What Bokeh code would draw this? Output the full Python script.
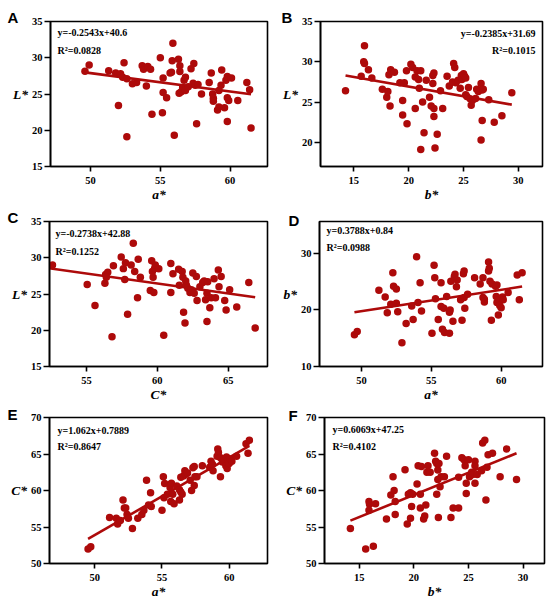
from bokeh.plotting import figure
from bokeh.layouts import column, row
from bokeh.models import FixedTicker, Label, Range1d, Title
from bokeh.embed import file_html
from bokeh.resources import INLINE

# ---------------- data ----------------
# Panel A: a* (x) vs L* (y)
A_points = [(49.6, 28.15), (49.9, 29.0), (51.3, 28.2), (51.8, 27.9), (52.15, 27.8), (52.4, 29.3),
            (52.0, 23.4), (52.6, 19.1), (52.3, 27.3), (52.6, 27.1), (53.0, 26.4), (53.3, 26.6),
            (53.7, 28.9), (53.8, 28.4), (54.1, 28.8), (54.3, 28.4), (54.0, 26.1), (54.4, 22.2),
            (55.0, 30.0), (55.15, 22.4), (55.2, 27.2), (55.2, 25.2), (55.45, 24.5), (55.7, 27.9),
            (55.8, 28.0), (55.9, 32.0), (55.85, 29.6), (56.0, 19.3), (56.3, 29.8), (56.4, 28.9),
            (56.4, 28.1), (56.35, 25.1), (56.5, 25.3), (56.6, 25.9), (56.7, 26.9), (56.8, 25.5),
            (56.8, 27.3), (57.0, 26.0), (57.2, 28.5), (57.4, 29.2), (57.35, 26.5), (57.5, 26.2),
            (57.6, 20.9), (57.7, 26.3), (57.95, 25.0), (58.5, 26.6), (58.65, 27.9), (58.75, 25.0),
            (58.8, 24.4), (58.8, 24.0), (59.1, 22.8), (59.2, 23.2), (59.2, 25.5), (59.35, 26.2),
            (59.4, 28.3), (59.6, 23.1), (59.7, 26.9), (59.8, 21.2), (59.8, 24.5), (59.9, 24.1),
            (59.8, 27.4), (60.1, 27.2), (60.55, 24.1), (61.2, 26.6), (61.4, 25.6), (61.5, 20.3)]
A_fit = (-0.2543, 40.6)
A_eq = ["y=-0.2543x+40.6", "R\u00b2=0.0828"]

# Panel B: b* (x) vs L* (y)
B_points = [(14.24, 26.4), (15.67, 28.2), (15.97, 32.0), (15.9, 30.0), (15.97, 29.8), (16.33, 29.0),
            (16.64, 28.0), (17.6, 26.6), (18.0, 25.6), (18.1, 26.3), (18.3, 24.5), (18.36, 29.0),
            (18.2, 28.4), (18.7, 28.7), (19.2, 27.4), (19.45, 25.2), (19.45, 23.4), (19.6, 27.4),
            (19.8, 28.9), (19.85, 22.3), (20.2, 29.7), (20.36, 29.3), (20.6, 24.2), (20.6, 28.1),
            (20.76, 28.9), (20.9, 27.8), (20.97, 26.7), (21.1, 28.9), (21.1, 19.1), (21.27, 25.0),
            (21.4, 21.2), (21.6, 27.7), (21.9, 25.6), (22.05, 24.5), (22.2, 28.3), (22.2, 27.3),
            (22.3, 28.6), (22.3, 24.2), (22.3, 23.2), (22.4, 19.3), (22.6, 21.0), (22.9, 26.4),
            (23.1, 24.2), (23.5, 28.2), (23.7, 27.0), (24.0, 27.5), (24.1, 29.8), (24.2, 29.3),
            (24.3, 27.4), (24.5, 27.7), (24.7, 26.7), (24.8, 28.3), (24.85, 27.8), (25.0, 28.5),
            (25.1, 28.2), (25.2, 25.9), (25.2, 28.0), (25.3, 25.7), (25.45, 26.8), (25.6, 25.4),
            (25.7, 24.6), (25.8, 25.2), (26.1, 25.45), (26.2, 26.6), (26.35, 26.3), (26.6, 20.3),
            (26.6, 27.3), (26.7, 26.5), (26.7, 22.7), (26.8, 26.6), (27.3, 25.3), (27.8, 22.5),
            (28.5, 23.3), (29.4, 26.15)]
B_fit = (-0.2385, 31.69)
B_eq = ["y=-0.2385x+31.69", "R\u00b2=0.1015"]

# Panel C: C* (x) vs L* (y)
C_points = [(51.95, 28.2), (52.6, 29.0), (55.05, 26.3), (55.6, 23.4), (56.3, 26.5), (56.35, 27.7),
            (56.5, 28.0), (56.4, 27.3), (56.8, 19.1), (56.9, 28.9), (57.45, 30.1), (57.6, 28.5),
            (57.75, 29.3), (57.7, 27.0), (57.9, 22.2), (58.15, 29.0), (58.3, 32.0), (58.4, 28.1),
            (58.6, 24.5), (58.65, 29.8), (58.8, 27.3), (59.5, 25.5), (59.6, 29.6), (59.65, 28.1),
            (59.7, 27.3), (59.75, 25.2), (59.8, 28.5), (59.85, 29.0), (60.1, 28.5), (60.45, 19.3),
            (60.95, 25.2), (60.95, 29.2), (61.1, 27.8), (61.5, 28.4), (61.55, 26.2), (61.75, 28.1),
            (61.8, 27.3), (61.85, 22.5), (61.95, 21.0), (62.0, 26.8), (62.05, 26.2), (62.15, 25.8),
            (62.3, 25.2), (62.4, 25.6), (62.5, 27.9), (62.6, 25.1), (62.75, 27.4), (62.8, 24.1),
            (63.0, 26.0), (63.2, 26.6), (63.3, 26.8), (63.4, 24.2), (63.5, 21.2), (63.5, 25.1),
            (63.55, 26.7), (63.7, 23.1), (63.8, 24.5), (64.0, 27.1), (64.1, 24.5), (64.3, 28.3),
            (64.35, 26.0), (64.5, 27.4), (64.75, 24.1), (64.85, 22.8), (65.1, 25.6), (65.6, 23.2),
            (66.45, 26.6), (66.9, 20.3)]
C_fit = (-0.2738, 42.88)
C_eq = ["y=-0.2738x+42.88", "R\u00b2=0.1252"]

# Panel D: a* (x) vs b* (y)
D_points = [(49.5, 15.6), (49.7, 16.2), (51.25, 23.5), (51.7, 22.3), (51.85, 19.5), (52.1, 21.0),
            (52.25, 26.6), (52.3, 24.2), (52.5, 23.7), (52.5, 21.2), (52.6, 19.7), (52.9, 14.2),
            (53.2, 17.6), (53.6, 20.7), (53.7, 18.3), (53.95, 29.4), (54.05, 21.3), (54.2, 24.8),
            (54.3, 19.8), (55.05, 15.9), (55.2, 27.9), (55.25, 25.7), (55.3, 22.0), (55.5, 18.3),
            (55.7, 20.6), (55.7, 24.8), (55.8, 16.6), (55.9, 20.3), (55.95, 16.0), (56.1, 22.4),
            (56.3, 15.9), (56.3, 19.6), (56.35, 20.0), (56.4, 25.1), (56.55, 18.0), (56.65, 25.9),
            (56.7, 26.3), (56.8, 24.1), (56.85, 25.3), (57.1, 21.8), (57.2, 18.2), (57.3, 26.4),
            (57.35, 26.9), (57.35, 22.2), (57.4, 20.3), (57.6, 22.8), (58.1, 25.7), (58.5, 24.6),
            (58.7, 25.7), (58.7, 22.2), (58.8, 21.4), (58.8, 21.9), (59.1, 28.5), (59.15, 27.4),
            (59.1, 26.9), (59.2, 25.1), (59.3, 18.2), (59.35, 24.6), (59.6, 24.2), (59.65, 22.4),
            (59.7, 24.4), (59.7, 21.3), (59.8, 19.1), (59.85, 21.8), (59.9, 20.8), (60.0, 20.4),
            (60.1, 22.3), (60.15, 21.8), (60.5, 23.1), (61.15, 26.2), (61.3, 21.8), (61.5, 26.6)]
D_fit = (0.3788, 0.84)
D_eq = ["y=0.3788x+0.84", "R\u00b2=0.0988"]

# Panel E: a* (x) vs C* (y)
E_points = [(49.5, 52.0), (49.7, 52.3), (51.1, 56.3), (51.6, 56.2), (51.7, 55.4), (51.9, 55.9),
            (52.1, 58.7), (52.2, 57.6), (52.3, 57.6), (52.4, 56.7), (52.5, 56.2), (52.8, 54.8),
            (53.2, 56.2), (53.5, 56.7), (53.65, 57.3), (53.85, 61.4), (54.0, 58.0), (54.15, 59.7),
            (54.2, 57.8), (55.0, 57.3), (55.1, 61.9), (55.15, 59.0), (55.2, 60.95), (55.4, 59.5),
            (55.6, 60.4), (55.65, 58.5), (55.7, 61.0), (55.8, 59.5), (55.9, 58.2), (56.1, 60.6),
            (56.3, 60.1), (56.3, 58.7), (56.4, 59.8), (56.5, 59.5), (56.4, 61.8), (56.6, 62.0),
            (56.7, 62.7), (56.75, 62.2), (56.9, 62.4), (57.1, 61.4), (57.2, 60.0), (57.3, 63.1),
            (57.4, 63.3), (57.4, 60.7), (57.45, 61.9), (57.6, 61.9), (58.0, 63.4), (58.55, 63.2),
            (58.65, 64.0), (58.75, 63.6), (58.8, 62.7), (59.1, 64.7), (59.15, 65.7), (59.2, 65.2),
            (59.35, 61.9), (59.35, 64.5), (59.5, 63.9), (59.6, 64.2), (59.75, 63.4), (59.8, 64.6),
            (59.85, 63.0), (59.9, 64.1), (60.0, 63.7), (60.1, 64.3), (60.2, 64.0), (60.55, 64.7),
            (61.25, 66.4), (61.4, 65.1), (61.5, 66.9)]
E_fit = (1.062, 0.7889)
E_eq = ["y=1.062x+0.7889", "R\u00b2=0.8647"]

# Panel F: b* (x) vs C* (y)
F_points = [(14.2, 54.8), (15.6, 52.0), (16.3, 52.35), (15.9, 58.5), (15.95, 58.1), (15.9, 57.3),
            (16.5, 58.2), (17.5, 56.1), (17.9, 59.4), (18.1, 61.9), (18.2, 60.0), (18.3, 56.7),
            (18.3, 58.5), (19.2, 62.85), (19.4, 55.4), (19.5, 59.5), (19.7, 56.2), (19.7, 59.7),
            (19.8, 57.8), (19.9, 59.5), (20.3, 60.9), (20.4, 63.4), (20.6, 59.5), (20.6, 57.6),
            (20.7, 63.3), (20.9, 56.1), (21.0, 56.5), (21.1, 58.0), (21.2, 62.5), (21.3, 63.4),
            (21.5, 62.5), (21.9, 65.1), (22.0, 64.0), (22.1, 63.7), (22.1, 59.5), (22.2, 61.5),
            (22.2, 62.8), (22.25, 56.3), (22.3, 63.7), (22.4, 60.5), (22.5, 61.9), (22.8, 61.9),
            (23.0, 64.7), (23.4, 56.3), (23.6, 57.6), (24.1, 57.6), (24.1, 61.8), (24.4, 64.5),
            (24.6, 64.2), (24.7, 63.4), (24.8, 59.6), (24.8, 61.0), (25.0, 64.2), (25.1, 61.9),
            (25.3, 62.5), (25.4, 62.2), (25.6, 64.0), (25.6, 63.4), (25.6, 61.0), (25.8, 62.2),
            (26.2, 62.7), (26.3, 66.5), (26.5, 66.9), (26.6, 58.7), (26.7, 63.2), (26.8, 64.9),
            (27.2, 65.1), (27.9, 61.9), (28.5, 65.7), (29.4, 61.5)]
F_fit = (0.6069, 47.25)
F_eq = ["y=0.6069x+47.25", "R\u00b2=0.4102"]

TICKS_A_X = [50, 55, 60]
TICKS_B_X = [15, 20, 25, 30]
TICKS_C_X = [55, 60, 65]
TICKS_L = [15, 20, 25, 30, 35]
TICKS_B_Y = [20, 25, 30, 35]
TICKS_D_Y = [10, 20, 30]
TICKS_C_Y = [50, 55, 60, 65, 70]

# ---------------- styling ----------------
RED = "#AD0A0A"
SERIF = "Liberation Serif"
SANS = "Liberation Sans"


def make_panel(points, fit, eq, letter, xlabel, ylabel, x_range, y_range, xticks, yticks,
               w, h, bl, br, bt, bb, eq_pos, letter_pos):
    fw = w - bl - br
    fh = h - bt - bb
    p = figure(width=w, height=h, x_range=Range1d(*x_range), y_range=Range1d(*y_range),
               output_backend="svg", toolbar_location=None,
               min_border_left=bl, min_border_right=br, min_border_top=bt, min_border_bottom=bb)
    p.grid.visible = False
    p.outline_line_color = "black"
    p.outline_line_width = 1.6
    p.outline_line_alpha = 1.0
    p.background_fill_color = "white"
    p.border_fill_color = "white"

    xs = [pt[0] for pt in points]
    ys = [pt[1] for pt in points]
    m, c = fit
    x0, x1 = min(xs), max(xs)
    p.line([x0, x1], [m * x0 + c, m * x1 + c], line_color=RED, line_width=2.6)
    p.scatter(xs, ys, size=7.5, fill_color=RED, line_color=RED, line_width=0)

    p.xaxis.ticker = FixedTicker(ticks=xticks)
    p.yaxis.ticker = FixedTicker(ticks=yticks)
    for ax in (p.xaxis[0], p.yaxis[0]):
        ax.axis_line_width = 1.6
        ax.axis_line_color = "black"
        ax.major_tick_line_width = 1.6
        ax.major_tick_line_color = "black"
        ax.major_tick_in = 0
        ax.minor_tick_line_color = None
        ax.major_label_text_font = SERIF
        ax.major_label_text_font_style = "bold"
        ax.major_label_text_font_size = "10.5px"
        ax.major_label_text_color = "black"
        ax.axis_label_text_font = SERIF
        ax.axis_label_text_font_style = "bold italic"
        ax.axis_label_text_font_size = "13.5px"
        ax.axis_label_text_color = "black"
        ax.axis_label_standoff = 0
    p.xaxis.major_tick_out = 5
    p.xaxis.major_label_standoff = 5
    p.xaxis.axis_label = xlabel
    p.yaxis.major_tick_out = 6
    p.yaxis.major_label_standoff = 2
    p.yaxis.axis_label = ylabel
    p.yaxis.axis_label_orientation = "horizontal"
    p.yaxis.axis_label_standoff = 1

    def lab(x, y, text, align):
        p.add_layout(Label(x=x, y=y, x_units="screen", y_units="screen", text=text,
                           text_font=SERIF, text_font_style="bold", text_font_size="10px",
                           text_align=align, text_baseline="top", text_color="black"))

    dx, dy1, dy2, align = eq_pos
    ex = fw + dx if align == "right" else dx
    lab(ex, fh - dy1, eq[0], align)
    lab(ex, fh - dy2, eq[1], align)

    ldx, lstand = letter_pos
    p.add_layout(Title(text=letter, align="left", offset=ldx, vertical_align="top",
                       standoff=lstand, text_font=SANS, text_font_style="bold",
                       text_font_size="15px", text_color="black"), "above")
    return p


pA = make_panel(A_points, A_fit, A_eq, "A", "a*", "L*", (47.13, 62.68), (15, 35), TICKS_A_X, TICKS_L,
                275, 204, 50, 8, 21, 37, (7, 6.5, 24, "left"), (-43, -11.9))
pB = make_panel(B_points, B_fit, B_eq, "B", "b*", "L*", (11.96, 32.2), (17, 35), TICKS_B_X, TICKS_B_Y,
                275, 204, 45, 8, 21, 37, (-7, 7, 24.5, "right"), (-39, -11.9))
pC = make_panel(C_points, C_fit, C_eq, "C", "C*", "L*", (52.39, 67.77), (15, 35), TICKS_C_X, TICKS_L,
                275, 200, 49, 8, 17, 37, (6, 7, 25, "left"), (-42, -11.9))
pD = make_panel(D_points, D_fit, D_eq, "D", "a*", "b*", (47.0, 62.96), (10, 35.65), TICKS_A_X, TICKS_D_Y,
                275, 200, 44, 8, 11, 37, (7, 10, 27, "left"), (-31, -17.9))
pE = make_panel(E_points, E_fit, E_eq, "E", "a*", "C*", (46.63, 62.85), (50, 70), TICKS_A_X, TICKS_C_Y,
                275, 197, 49, 8, 13, 37, (8, 8, 24, "left"), (-42, -14.9))
pF = make_panel(F_points, F_fit, F_eq, "F", "b*", "C*", (11.83, 31.96), (50, 70), TICKS_B_X, TICKS_C_Y,
                275, 197, 49, 6, 12, 37, (8, 8.5, 25, "left"), (-36, -15.9))

layout = column(row(pA, pB), row(pC, pD), row(pE, pF))

open("out.html", "w").write(file_html(layout, INLINE))
